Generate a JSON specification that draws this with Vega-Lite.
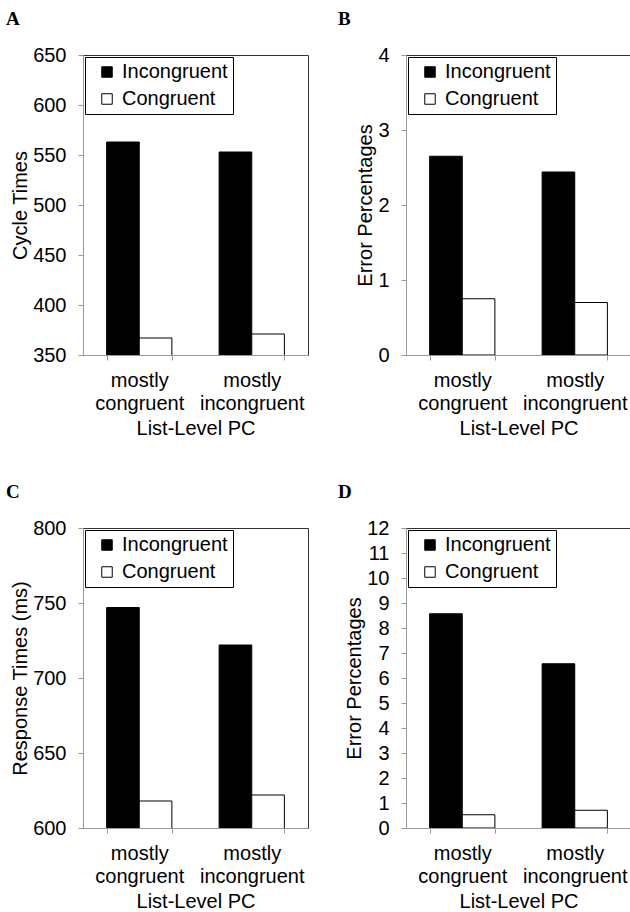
{
  "$schema": "https://vega.github.io/schema/vega-lite/v6.json",
  "padding": {"left": 5, "top": 9, "right": 0, "bottom": 0},
  "data": {"values": [
    {"panel": "A", "pc": "mostly congruent", "condition": "Incongruent", "value": 563},
    {"panel": "A", "pc": "mostly congruent", "condition": "Congruent", "value": 367},
    {"panel": "A", "pc": "mostly incongruent", "condition": "Incongruent", "value": 553},
    {"panel": "A", "pc": "mostly incongruent", "condition": "Congruent", "value": 371},
    {"panel": "B", "pc": "mostly congruent", "condition": "Incongruent", "value": 2.65},
    {"panel": "B", "pc": "mostly congruent", "condition": "Congruent", "value": 0.75},
    {"panel": "B", "pc": "mostly incongruent", "condition": "Incongruent", "value": 2.44},
    {"panel": "B", "pc": "mostly incongruent", "condition": "Congruent", "value": 0.70},
    {"panel": "C", "pc": "mostly congruent", "condition": "Incongruent", "value": 747},
    {"panel": "C", "pc": "mostly congruent", "condition": "Congruent", "value": 618},
    {"panel": "C", "pc": "mostly incongruent", "condition": "Incongruent", "value": 722},
    {"panel": "C", "pc": "mostly incongruent", "condition": "Congruent", "value": 622},
    {"panel": "D", "pc": "mostly congruent", "condition": "Incongruent", "value": 8.57},
    {"panel": "D", "pc": "mostly congruent", "condition": "Congruent", "value": 0.53},
    {"panel": "D", "pc": "mostly incongruent", "condition": "Incongruent", "value": 6.57},
    {"panel": "D", "pc": "mostly incongruent", "condition": "Congruent", "value": 0.71}
  ]},
  "columns": 2,
  "spacing": {"column": 28, "row": 43},
  "resolve": {"scale": {"color": "independent", "y": "independent"}, "legend": {"color": "independent"}},
  "concat": [
    {
      "title": {"text": "A", "dx": -77},
      "transform": [{"filter": "datum.panel === 'A'"}],
      "width": 225, "height": 300,
      "mark": {"type": "bar", "stroke": "black", "strokeWidth": 1, "clip": true},
      "encoding": {
        "x": {"field": "pc", "type": "nominal", "scale": {"paddingInner": 0.42, "paddingOuter": 0.21}, "title": "List-Level PC"},
        "xOffset": {"field": "condition", "type": "nominal", "sort": ["Incongruent", "Congruent"], "scale": {"paddingInner": 0, "paddingOuter": 0}},
        "y": {"field": "value", "type": "quantitative", "scale": {"domain": [350, 650], "zero": false, "nice": false}, "axis": {"values": [350, 400, 450, 500, 550, 600, 650]}, "title": "Cycle Times"},
        "color": {"field": "condition", "type": "nominal", "sort": ["Incongruent", "Congruent"], "scale": {"domain": ["Incongruent", "Congruent"], "range": ["black", "white"]}}
      }
    },
    {
      "title": {"text": "B", "dx": -68},
      "transform": [{"filter": "datum.panel === 'B'"}],
      "width": 225, "height": 300,
      "mark": {"type": "bar", "stroke": "black", "strokeWidth": 1, "clip": true},
      "encoding": {
        "x": {"field": "pc", "type": "nominal", "scale": {"paddingInner": 0.42, "paddingOuter": 0.21}, "title": "List-Level PC"},
        "xOffset": {"field": "condition", "type": "nominal", "sort": ["Incongruent", "Congruent"], "scale": {"paddingInner": 0, "paddingOuter": 0}},
        "y": {"field": "value", "type": "quantitative", "scale": {"domain": [0, 4], "nice": false}, "axis": {"values": [0, 1, 2, 3, 4]}, "title": "Error Percentages"},
        "color": {"field": "condition", "type": "nominal", "sort": ["Incongruent", "Congruent"], "scale": {"domain": ["Incongruent", "Congruent"], "range": ["black", "white"]}}
      }
    },
    {
      "title": {"text": "C", "dx": -77},
      "transform": [{"filter": "datum.panel === 'C'"}],
      "width": 225, "height": 300,
      "mark": {"type": "bar", "stroke": "black", "strokeWidth": 1, "clip": true},
      "encoding": {
        "x": {"field": "pc", "type": "nominal", "scale": {"paddingInner": 0.42, "paddingOuter": 0.21}, "title": "List-Level PC"},
        "xOffset": {"field": "condition", "type": "nominal", "sort": ["Incongruent", "Congruent"], "scale": {"paddingInner": 0, "paddingOuter": 0}},
        "y": {"field": "value", "type": "quantitative", "scale": {"domain": [600, 800], "zero": false, "nice": false}, "axis": {"values": [600, 650, 700, 750, 800]}, "title": "Response Times (ms)"},
        "color": {"field": "condition", "type": "nominal", "sort": ["Incongruent", "Congruent"], "scale": {"domain": ["Incongruent", "Congruent"], "range": ["black", "white"]}}
      }
    },
    {
      "title": {"text": "D", "dx": -68},
      "transform": [{"filter": "datum.panel === 'D'"}],
      "width": 225, "height": 300,
      "mark": {"type": "bar", "stroke": "black", "strokeWidth": 1, "clip": true},
      "encoding": {
        "x": {"field": "pc", "type": "nominal", "scale": {"paddingInner": 0.42, "paddingOuter": 0.21}, "title": "List-Level PC"},
        "xOffset": {"field": "condition", "type": "nominal", "sort": ["Incongruent", "Congruent"], "scale": {"paddingInner": 0, "paddingOuter": 0}},
        "y": {"field": "value", "type": "quantitative", "scale": {"domain": [0, 12], "nice": false}, "axis": {"values": [0, 1, 2, 3, 4, 5, 6, 7, 8, 9, 10, 11, 12]}, "title": "Error Percentages"},
        "color": {"field": "condition", "type": "nominal", "sort": ["Incongruent", "Congruent"], "scale": {"domain": ["Incongruent", "Congruent"], "range": ["black", "white"]}}
      }
    }
  ],
  "config": {
    "font": "Liberation Sans",
    "view": {"stroke": "#333333", "strokeWidth": 1},
    "title": {"anchor": "start", "frame": "group", "font": "Liberation Serif", "fontWeight": "bold", "fontSize": 19, "color": "black", "offset": 16},
    "axis": {
      "grid": false,
      "domainColor": "#999999",
      "tickColor": "#999999",
      "tickSize": 5,
      "labelFont": "Liberation Sans",
      "labelFontSize": 20,
      "labelColor": "black",
      "titleFont": "Liberation Sans",
      "titleFontSize": 20,
      "titleFontWeight": "normal",
      "titleColor": "black"
    },
    "axisX": {"labelAngle": 0, "labelExpr": "split(datum.label, ' ')", "labelLineHeight": 23, "labelPadding": 10, "tickBand": "extent", "titlePadding": 5},
    "axisY": {"labelPadding": 12, "titlePadding": 2},
    "legend": {
      "orient": "top-left",
      "offset": 2,
      "title": null,
      "strokeColor": "black",
      "fillColor": "white",
      "padding": 5,
      "rowPadding": 7,
      "labelFont": "Liberation Sans",
      "labelFontSize": 20,
      "labelColor": "black",
      "labelOffset": 5,
      "symbolOffset": 7,
      "symbolType": "square",
      "symbolSize": 110,
      "symbolStrokeColor": "black",
      "symbolStrokeWidth": 1
    }
  }
}
